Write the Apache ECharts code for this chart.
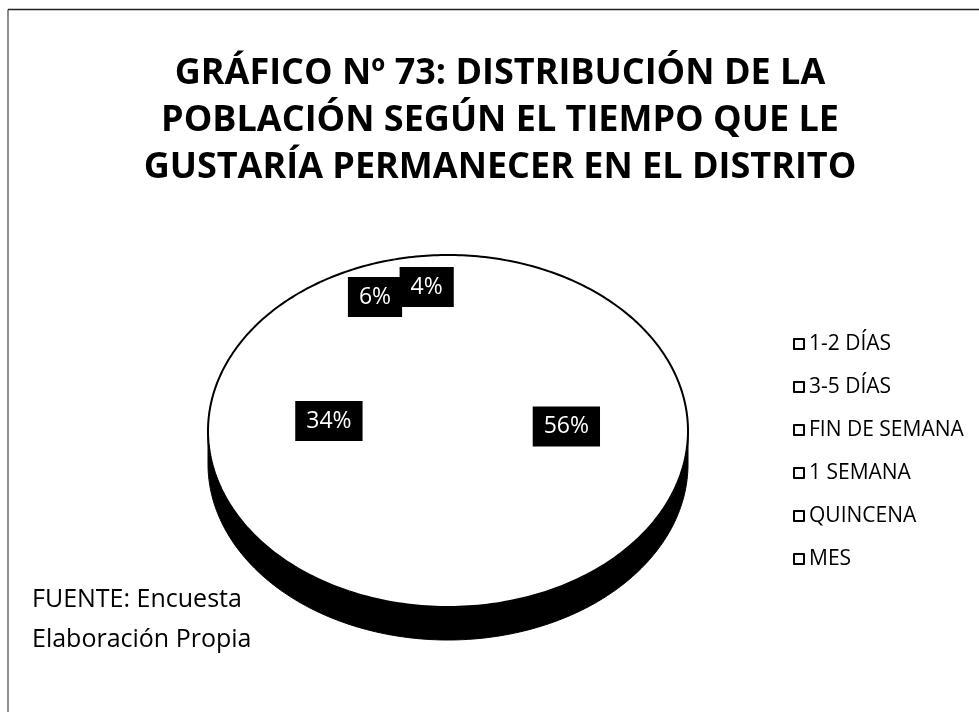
<!DOCTYPE html>
<html>
<head>
<meta charset="utf-8">
<script src="https://cdn.jsdelivr.net/npm/echarts@6/dist/echarts.min.js"></script>
<style>
  html, body { margin: 0; padding: 0; background: #fff; }
  #chart { width: 979px; height: 712px; }
</style>
</head>
<body>
<div id="chart"></div>
<script>
// Survey answers: how long respondents would like to stay in the district
const categories = ['1-2 DÍAS', '3-5 DÍAS', 'FIN DE SEMANA', '1 SEMANA', 'QUINCENA', 'MES'];
const shares = [56, 34, 6, 4, 0, 0];
const titleLines = [
  'GRÁFICO Nº 73: DISTRIBUCIÓN DE LA',
  'POBLACIÓN SEGÚN EL TIEMPO QUE LE',
  'GUSTARÍA PERMANECER EN EL DISTRITO'
];
const sourceLines = ['FUENTE: Encuesta', 'Elaboración Propia'];

const FONT = '"Open Sans", "Noto Sans", sans-serif';

// Tilted disc seen in perspective: its top face outline and apparent centre
const disc = { cx: 448, top: 255, bottom: 607, halfWidth: 240, centerY: 410, depth: 33 };
const up = disc.centerY - disc.top;
const down = disc.bottom - disc.centerY;
const ratio = up / down;
const B = (ratio - 1) / (ratio + 1);
const A = up * (1 - B);
const C = disc.halfWidth * Math.sqrt(1 - B * B);

// unit-circle point (u to the right, v towards the viewer) -> screen
function project(u, v) {
  const d = 1 + B * v;
  return [disc.cx + C * u / d, disc.centerY + A * v / d];
}
// angle measured clockwise from 12 o'clock
function rim(theta, k) {
  k = k == null ? 1 : k;
  return project(k * Math.sin(theta), -k * Math.cos(theta));
}
function arcPoints(a0, a1) {
  const n = Math.max(2, Math.ceil((a1 - a0) / (Math.PI / 180)));
  const pts = [];
  for (let j = 0; j <= n; j++) pts.push(rim(a0 + (a1 - a0) * j / n));
  return pts;
}

const total = shares.reduce((s, v) => s + v, 0);
const startAngles = [];
shares.reduce((acc, v, i) => { startAngles[i] = acc; return acc + v; }, 0);

// side wall is visible between the two silhouette points
const sideFrom = Math.acos(B);             // right silhouette
const sideTo = 2 * Math.PI - Math.acos(B); // left silhouette

function renderSlice(params, api) {
  const i = params.dataIndex;
  const value = api.value(0);
  const children = [];
  if (!value) return { type: 'group', children };
  const a0 = startAngles[i] / total * 2 * Math.PI;
  const a1 = (startAngles[i] + value) / total * 2 * Math.PI;

  // side wall
  const s0 = Math.max(a0, sideFrom), s1 = Math.min(a1, sideTo);
  if (s1 > s0) {
    const upper = arcPoints(s0, s1);
    const lower = upper.slice().reverse().map(p => [p[0], p[1] + disc.depth]);
    children.push({
      type: 'polygon', z2: 1,
      shape: { points: upper.concat(lower) },
      style: { fill: '#000', stroke: '#000', lineWidth: 1 }
    });
  }
  // top face
  const arc = arcPoints(a0, a1);
  children.push({
    type: 'polygon', z2: 2,
    shape: { points: [project(0, 0)].concat(arc) },
    style: { fill: '#fff', stroke: '#fff', lineWidth: 0.5 }
  });
  children.push({
    type: 'polyline', z2: 3,
    shape: { points: arc },
    style: { fill: null, stroke: '#000', lineWidth: 2 }
  });
  // value label
  const mid = (a0 + a1) / 2;
  const k = value >= 20 ? 0.5 : 0.78;
  const p = rim(mid, k);
  children.push({
    type: 'text', z2: 10,
    x: p[0], y: p[1],
    style: {
      text: value + '%',
      fill: '#fff',
      fontFamily: FONT,
      fontSize: 23,
      align: 'center',
      verticalAlign: 'middle',
      backgroundColor: '#000',
      padding: [8, 11, 8, 11],
      lineHeight: 24
    }
  });
  return { type: 'group', children };
}

const chart = echarts.init(document.getElementById('chart'), null, { renderer: 'canvas' });
chart.setOption({
  animation: false,
  backgroundColor: '#fff',
  title: {
    text: titleLines.join('\n'),
    left: 495,
    textAlign: 'center',
    top: 45,
    textStyle: {
      fontFamily: FONT,
      fontWeight: 'bold',
      fontSize: 36,
      lineHeight: 47,
      color: '#000'
    }
  },
  legend: {
    orient: 'vertical',
    left: 788,
    top: 328,
    itemWidth: 10,
    itemHeight: 10,
    itemGap: 21,
    icon: 'rect',
    selectedMode: false,
    data: categories,
    itemStyle: { color: '#fff', borderColor: '#000', borderWidth: 2 },
    textStyle: { fontFamily: FONT, fontSize: 21, lineHeight: 22, color: '#000' }
  },
  graphic: [
    { type: 'line', shape: { x1: 8, y1: 9.5, x2: 979, y2: 9.5 }, style: { stroke: '#222', lineWidth: 1.5 } },
    { type: 'line', shape: { x1: 8, y1: 9.5, x2: 8, y2: 712 }, style: { stroke: '#444', lineWidth: 1.2 } },
    {
      type: 'text', left: 32, top: 580,
      style: { text: sourceLines.join('\n'), fontFamily: FONT, fontSize: 25, lineHeight: 40, fill: '#000' }
    }
  ],
  series: [
    {
      // supplies the legend entries
      type: 'pie',
      silent: true,
      center: [-50, -50],
      radius: [0, 1],
      label: { show: false },
      labelLine: { show: false },
      itemStyle: { color: '#fff', borderColor: '#000' },
      data: categories.map((name, i) => ({ name, value: shares[i] }))
    },
    {
      type: 'custom',
      coordinateSystem: 'none',
      silent: true,
      renderItem: renderSlice,
      data: shares
    }
  ]
});
</script>
</body>
</html>
